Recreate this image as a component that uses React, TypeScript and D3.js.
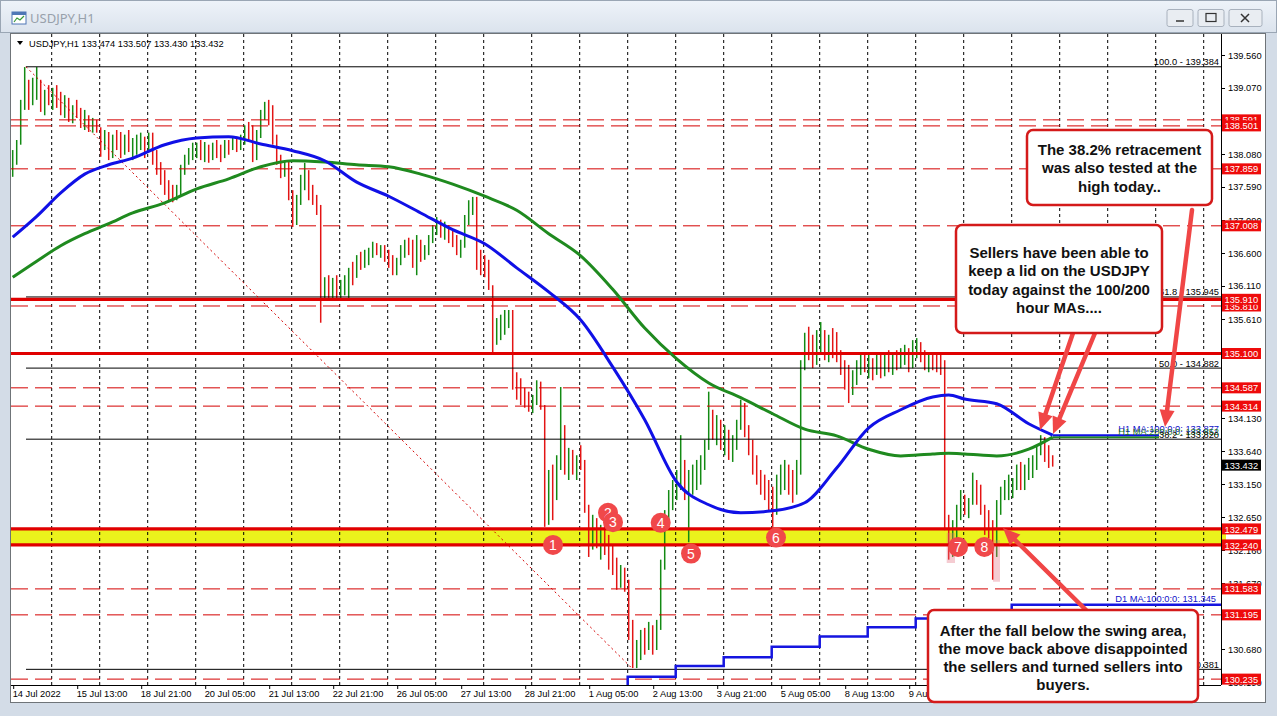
import React from "react";
import * as d3 from "d3";

// ---------- layout ----------
const W = 1277, H = 716;
const PL = 11, PR = 1221, PT = 34, PB = 685;
const FONT = "'Liberation Sans', Arial, sans-serif";

// ---------- data ----------
// 2-hour candles, first slot index (slot j covers H1 bars 2j, 2j+1 from 14 Jul 00:00)
const firstSlot = 2;
const firstOpen = 137.84;
const closes = [
  137.99, 138.29, 138.81, 139.11, 138.96, 139.04, 139.19, 138.89, 138.96, 138.89,
  138.96, 138.89, 138.74, 138.89, 138.62, 138.77, 138.66, 138.56, 138.59, 138.47,
  138.51, 138.44, 138.14, 138.37, 138.07, 138.29, 138.22, 138.14, 138.29, 138.17,
  138.22, 138.29, 138.32, 138.14, 138.32, 137.99, 137.84, 137.69, 137.54, 137.47,
  137.42, 137.54, 137.84, 137.99, 138.11, 138.14, 138.17, 138.07, 138.14, 138.02,
  138.17, 138.14, 138.07, 138.22, 138.14, 138.26, 138.22, 138.29, 138.44, 138.37,
  138.07, 138.37, 138.66, 138.77, 138.59, 138.29, 137.99, 137.84, 137.92, 137.47,
  137.17, 137.39, 137.69, 137.77, 137.47, 137.39, 137.24, 136.05, 136.12, 136.05,
  136.17, 135.97, 136.12, 136.20, 136.32, 136.27, 136.50, 136.42, 136.57, 136.62,
  136.72, 136.65, 136.68, 136.53, 136.47, 136.35, 136.47, 136.65, 136.72, 136.62,
  136.47, 136.80, 136.53, 136.65, 136.83, 136.95, 137.07, 136.92, 136.98, 136.83,
  136.80, 136.65, 136.72, 137.10, 137.32, 137.39, 136.50, 136.47, 136.35, 136.12,
  135.30, 135.45, 135.60, 135.68, 135.72, 134.70, 134.63, 134.48, 134.41, 134.33,
  134.41, 134.63, 134.33, 132.91, 133.21, 133.06, 133.44, 133.96, 133.44, 133.51,
  133.39, 133.48, 133.44, 132.84, 132.46, 132.54, 132.31, 132.39, 132.24, 132.02,
  131.87, 131.72, 131.87, 131.64, 130.97, 130.52, 130.67, 130.82, 130.75, 130.97,
  130.75, 131.00, 131.94, 132.61, 132.91, 133.06, 133.14, 133.44, 133.06, 133.21,
  133.29, 133.36, 133.51, 133.73, 134.11, 133.96, 134.03, 133.81, 133.88, 133.66,
  133.81, 134.03, 134.26, 133.96, 133.66, 133.44, 133.21, 133.09, 133.03, 132.91,
  132.84, 133.21, 133.29, 133.36, 133.21, 132.99, 133.36, 134.93, 135.23, 135.15,
  135.08, 135.23, 135.30, 135.15, 135.23, 135.15, 135.08, 134.85, 134.70, 134.63,
  134.78, 134.93, 135.00, 134.88, 134.97, 134.85, 135.03, 134.82, 135.00, 134.93,
  135.08, 134.97, 135.12, 135.15, 134.93, 135.18, 135.23, 135.08, 134.93, 135.00,
  134.97, 134.88, 134.85, 132.61, 132.31, 132.39, 132.69, 132.84, 132.76, 132.88,
  133.14, 132.99, 132.76, 132.54, 132.46, 132.31, 132.84, 132.99, 133.09, 133.14,
  133.18, 133.36, 133.14, 133.36, 133.47, 133.51, 133.66, 133.81, 133.58, 133.51,
  133.43,
];
const highs = [
  138.14, 138.29, 138.89, 139.38, 139.19, 139.22, 139.38, 139.19, 139.04, 139.11,
  139.07, 139.11, 139.01, 138.96, 138.92, 138.81, 138.89, 138.77, 138.74, 138.66,
  138.62, 138.59, 138.48, 138.44, 138.41, 138.37, 138.44, 138.41, 138.37, 138.44,
  138.32, 138.37, 138.40, 138.34, 138.40, 138.40, 138.14, 137.96, 137.84, 137.69,
  137.62, 137.62, 137.92, 138.07, 138.17, 138.25, 138.25, 138.29, 138.26, 138.22,
  138.25, 138.29, 138.22, 138.29, 138.29, 138.32, 138.32, 138.37, 138.51, 138.56,
  138.51, 138.44, 138.74, 138.86, 138.89, 138.81, 138.37, 138.07, 137.99, 137.99,
  137.54, 137.47, 137.77, 137.95, 137.84, 137.62, 137.47, 137.32, 136.24, 136.27,
  136.23, 136.27, 136.20, 136.27, 136.38, 136.47, 136.57, 136.62, 136.65, 136.68,
  136.77, 136.75, 136.72, 136.72, 136.65, 136.57, 136.53, 136.72, 136.80, 136.83,
  136.80, 136.87, 136.72, 136.72, 136.87, 137.02, 137.14, 137.10, 137.07, 137.02,
  136.95, 136.87, 136.80, 137.17, 137.39, 137.44, 137.44, 136.65, 136.57, 136.50,
  136.12, 135.63, 135.68, 135.75, 135.75, 135.75, 134.82, 134.73, 134.59, 134.53,
  134.48, 134.70, 134.68, 134.33, 133.36, 133.44, 133.58, 134.60, 134.03, 133.69,
  133.66, 133.58, 133.73, 133.51, 132.84, 132.69, 132.64, 132.54, 132.61, 132.39,
  132.24, 132.05, 131.94, 131.90, 131.72, 131.12, 130.82, 130.97, 131.00, 131.09,
  131.04, 131.12, 132.02, 132.76, 133.06, 133.21, 133.36, 133.88, 133.51, 133.36,
  133.44, 133.51, 133.58, 133.81, 134.53, 134.26, 134.18, 134.11, 134.03, 133.96,
  133.88, 134.11, 134.41, 134.36, 134.03, 133.81, 133.58, 133.36, 133.29, 133.21,
  133.11, 133.29, 133.44, 133.51, 133.44, 133.36, 133.51, 135.00, 135.41, 135.50,
  135.38, 135.45, 135.57, 135.45, 135.38, 135.48, 135.42, 135.15, 135.00, 134.93,
  134.85, 135.00, 135.08, 135.12, 135.08, 135.03, 135.12, 135.08, 135.08, 135.15,
  135.12, 135.15, 135.18, 135.23, 135.18, 135.30, 135.33, 135.27, 135.15, 135.08,
  135.12, 135.08, 135.08, 135.00, 132.69, 132.61, 132.84, 133.06, 132.99, 132.94,
  133.32, 133.21, 133.14, 132.84, 132.76, 132.61, 132.91, 133.11, 133.21, 133.29,
  133.24, 133.44, 133.48, 133.44, 133.54, 133.58, 133.73, 133.88, 133.85, 133.73,
  133.58,
];
const lows = [
  137.74, 137.92, 138.22, 138.74, 138.74, 138.81, 138.89, 138.71, 138.66, 138.81,
  138.74, 138.77, 138.66, 138.62, 138.56, 138.54, 138.62, 138.47, 138.44, 138.41,
  138.40, 138.40, 138.04, 138.14, 137.99, 138.02, 138.14, 138.02, 138.07, 138.11,
  137.99, 138.07, 138.14, 138.02, 138.11, 137.92, 137.77, 137.62, 137.47, 137.39,
  137.36, 137.39, 137.44, 137.77, 137.92, 137.99, 138.02, 137.99, 137.96, 137.95,
  137.99, 138.02, 137.96, 138.02, 138.07, 138.14, 138.11, 138.14, 138.22, 138.29,
  137.96, 137.99, 138.32, 138.59, 138.51, 138.22, 137.92, 137.72, 137.74, 137.39,
  136.99, 137.02, 137.32, 137.54, 137.39, 137.32, 137.17, 135.56, 135.90, 135.93,
  135.90, 135.90, 135.90, 135.97, 135.90, 136.12, 136.23, 136.35, 136.38, 136.42,
  136.53, 136.57, 136.53, 136.47, 136.38, 136.27, 136.27, 136.42, 136.53, 136.57,
  136.38, 136.27, 136.47, 136.50, 136.57, 136.75, 136.87, 136.83, 136.80, 136.75,
  136.69, 136.57, 136.53, 136.68, 137.02, 137.17, 136.35, 136.27, 136.24, 136.05,
  135.12, 135.23, 135.30, 135.38, 135.48, 134.56, 134.41, 134.33, 134.29, 134.23,
  134.21, 134.33, 134.26, 132.51, 132.54, 132.61, 132.91, 133.36, 133.29, 133.21,
  133.29, 133.21, 133.36, 132.72, 132.06, 132.17, 132.19, 132.02, 132.09, 131.87,
  131.79, 131.57, 131.60, 131.54, 130.82, 130.40, 130.40, 130.52, 130.60, 130.67,
  130.60, 130.67, 130.97, 131.87, 132.54, 132.76, 132.91, 133.06, 132.91, 132.28,
  132.99, 133.06, 133.14, 133.36, 133.66, 133.81, 133.73, 133.66, 133.58, 133.51,
  133.48, 133.66, 133.96, 133.85, 133.58, 133.29, 133.14, 132.99, 132.91, 132.76,
  132.51, 132.69, 132.99, 133.06, 132.99, 132.87, 132.99, 133.29, 134.85, 135.00,
  134.88, 134.93, 135.08, 135.00, 134.97, 135.03, 134.97, 134.78, 134.56, 134.36,
  134.48, 134.63, 134.78, 134.82, 134.73, 134.70, 134.78, 134.73, 134.76, 134.82,
  134.78, 134.85, 134.88, 134.93, 134.82, 134.88, 135.03, 134.97, 134.85, 134.82,
  134.85, 134.82, 134.78, 132.46, 132.02, 132.06, 132.24, 132.61, 132.69, 132.64,
  132.84, 132.84, 132.69, 132.39, 132.34, 131.72, 132.06, 132.69, 132.91, 132.91,
  132.94, 133.06, 133.06, 133.06, 133.21, 133.24, 133.36, 133.58, 133.48, 133.39,
  133.41,
];

// moving averages sampled at 2-hour slots
const maSlots = [2, 8, 14, 20, 26, 32, 40, 48, 56, 64, 72, 80, 88, 96, 104, 112, 120, 128,
  136, 144, 152, 160, 168, 176, 184, 192, 200, 208, 216, 224, 232, 236, 240, 248, 256, 262];
const ma100 = [136.84, 137.15, 137.50, 137.78, 137.92, 138.02, 138.22, 138.32, 138.34, 138.23,
  138.13, 137.98, 137.66, 137.45, 137.20, 136.95, 136.74, 136.38, 136.02, 135.60, 134.90,
  134.11, 133.18, 132.84, 132.72, 132.75, 132.87, 133.39, 133.99, 134.26, 134.45, 134.48,
  134.42, 134.35, 134.05, 133.88];
const ma200 = [136.24, 136.48, 136.71, 136.89, 137.04, 137.20, 137.35, 137.56, 137.71, 137.89,
  137.98, 137.96, 137.92, 137.89, 137.78, 137.63, 137.45, 137.24, 136.89, 136.56, 136.06,
  135.48, 135.02, 134.66, 134.44, 134.20, 133.97, 133.87, 133.67, 133.57, 133.60, 133.61,
  133.60, 133.57, 133.67, 133.85];

// daily MA(100) — one value per trading day (day index 0 = 15 Jul)
const d1Days = [11, 12, 13, 14, 15, 16, 17, 18, 19, 20];
const d1Values = [130.05, 130.27, 130.43, 130.56, 130.72, 130.87, 131.01, 131.14, 131.25, 131.345];

// horizontal levels
const solidLevels = [135.910, 135.100, 132.479, 132.240];
const dashedLevels = [138.591, 138.501, 137.859, 137.008, 135.810, 134.587, 134.314, 131.583, 131.195, 130.235];
const levelLabels = [138.591, 138.501, 137.859, 137.008, 135.810, 135.910, 135.100, 134.587, 134.314,
  132.479, 132.240, 131.583, 131.195, 130.235];
const swingZone = [132.240, 132.479];

// fibonacci
const fibAnchorBars = [11.15, 314.65];
const fibRatios = ["100.0", "61.8", "50.0", "38.2", "0.0"];
const fibPrices = [139.384, 135.945, 134.882, 133.820, 130.381];

// axes (tick labels that the price tags cover completely are left out)
const yTicks = [139.56, 139.07, 138.08, 137.59, 137.09, 136.6, 136.11, 135.61,
  134.13, 133.64, 133.15, 132.65, 132.16, 131.67, 130.68, 130.19];
const timeLabels = ["14 Jul 2022", "15 Jul 13:00", "18 Jul 21:00", "20 Jul 05:00", "21 Jul 13:00",
  "22 Jul 21:00", "26 Jul 05:00", "27 Jul 13:00", "28 Jul 21:00", "1 Aug 05:00", "2 Aug 13:00",
  "3 Aug 21:00", "5 Aug 05:00", "8 Aug 13:00", "9 Aug 21:00"];
const timeLabelBars = timeLabels.map((_, i) => 5 + 32 * i);
const lastPrice = 133.432;
const headerOHLC = "133.474 133.507 133.430 133.432";

// numbered markers (H1 bar, price)
const markerNums = [1, 2, 3, 4, 5, 6, 7, 8];
const markerBars = [274.65, 302.15, 304.65, 328.5, 343.65, 386.15, 477.15, 490.3];
const markerPrices = [132.24, 132.72, 132.58, 132.57, 132.11, 132.35, 132.21, 132.21];
// highlighted candles (bar range, price range)
const highlights = [
  { b0: 471.5, b1: 475.65, p0: 132.42, p1: 131.97 },
  { b0: 494.65, b1: 498.15, p0: 132.31, p1: 131.69 },
];

const boxA = ["The 38.2% retracement", "was also tested at the", "high today.."];
const boxB = ["Sellers have been able to", "keep a lid on the USDJPY", "today against the 100/200", "hour MAs...."];
const boxC = ["After the fall below the swing area,", "the move back above disappointed", "the sellers and turned sellers into", "buyers."];

// ---------- scales ----------
const yScale = d3.scaleLinear().domain([130.147, 139.874]).range([PB, PT]);
const xScale = d3.scaleLinear().domain([0, 608.65]).range([3.7, PR]); // H1 bar index
const slotX = (j: number) => xScale(2 * j + 0.5);
const dayX = (k: number) => xScale(24 + 24 * k);

const UP = "#138a13";
const DOWN = "#e31414";
const RED = "#e00000";
const ARROW = "#f04646";

function Arrow({ x1, y1, x2, y2 }: { x1: number; y1: number; x2: number; y2: number }) {
  const dx = x2 - x1, dy = y2 - y1;
  const len = Math.hypot(dx, dy);
  const ux = dx / len, uy = dy / len;
  const hl = 17, hw = 7.5;
  const bx = x2 - ux * hl, by = y2 - uy * hl;
  const px = -uy, py = ux;
  const pts = `${x2},${y2} ${bx + px * hw},${by + py * hw} ${bx - px * hw},${by - py * hw}`;
  return (
    <g>
      <line x1={x1} y1={y1} x2={bx + ux * 2} y2={by + uy * 2} stroke={ARROW} strokeWidth={4.5} strokeLinecap="round" />
      <polygon points={pts} fill={ARROW} />
    </g>
  );
}

function TextBox({ x, y, w, h, lines, first }: { x: number; y: number; w: number; h: number; lines: string[]; first: number }) {
  return (
    <g>
      <rect x={x} y={y} width={w} height={h} rx={6} ry={6} fill="#ffffff" stroke="#d41a1a" strokeWidth={2.5} />
      {lines.map((t, i) => (
        <text key={i} x={x + w / 2} y={first + i * 18.3} textAnchor="middle" fontFamily={FONT}
          fontWeight="bold" fontSize={15} fill="#111">{t}</text>
      ))}
    </g>
  );
}

export default function App() {
  const candles = closes.map((c, i) => {
    const o = i === 0 ? firstOpen : closes[i - 1];
    return {
      x: slotX(firstSlot + i),
      hi: Math.max(highs[i], o, c),
      lo: Math.min(lows[i], o, c),
      up: c >= o,
    };
  });

  const maLine = d3.line<[number, number]>()
    .x((d) => slotX(d[0]))
    .y((d) => yScale(d[1]))
    .curve(d3.curveMonotoneX);
  const ma100Path = maLine(maSlots.map((s, i) => [s, ma100[i]]) as [number, number][]) || "";
  const ma200Path = maLine(maSlots.map((s, i) => [s, ma200[i]]) as [number, number][]) || "";
  const lastX = slotX(maSlots[maSlots.length - 1]);

  const d1Pts: [number, number][] = d1Days.map((k, i) => [dayX(k), yScale(d1Values[i])]);
  d1Pts.push([PR, yScale(d1Values[d1Values.length - 1])]);
  const d1Path = d3.line().curve(d3.curveStepAfter)(d1Pts) || "";

  const gridXs: number[] = [];
  for (let k = 0; dayX(k) < PR; k++) gridXs.push(dayX(k));

  const fibX0 = xScale(fibAnchorBars[0]);
  const fibX1 = xScale(fibAnchorBars[1]);

  return (
    <svg width={W} height={H} style={{ position: "absolute", left: 0, top: 0 }} xmlns="http://www.w3.org/2000/svg">
      <defs>
        <linearGradient id="tb" x1="0" y1="0" x2="0" y2="1">
          <stop offset="0" stopColor="#eef3f9" />
          <stop offset="1" stopColor="#dbe3ed" />
        </linearGradient>
        <clipPath id="plot">
          <rect x={PL} y={PT} width={PR - PL} height={PB - PT} />
        </clipPath>
      </defs>

      {/* window chrome */}
      <rect x={0} y={0} width={W} height={H} fill="#d3dce7" />
      <rect x={0.5} y={0.5} width={W - 1} height={32} fill="url(#tb)" stroke="#9aa6b4" />
      <g>
        <rect x={12} y={12} width={14} height={12} fill="#ffffff" stroke="#4f77b6" />
        <rect x={12} y={12} width={14} height={3} fill="#4f77b6" />
        <path d="M14 22 L17 18 L20 20 L24 16" stroke="#3a9a3a" fill="none" strokeWidth={1.2} />
      </g>
      <text x={30} y={23} fontFamily="'Noto Sans', 'Open Sans', sans-serif" fontSize={13} fill="#98a1ab">USDJPY,H1</text>
      {[1167, 1198].map((bx, i) => (
        <g key={i}>
          <rect x={bx} y={9.5} width={26} height={17} rx={2} fill="#e9edf2" stroke="#a8b1bd" />
          {i === 0 ? (
            <line x1={bx + 9} y1={21} x2={bx + 17} y2={21} stroke="#333" strokeWidth={1.5} />
          ) : (
            <rect x={bx + 8} y={13.5} width={10} height={8} fill="none" stroke="#333" strokeWidth={1.2} />
          )}
        </g>
      ))}
      <rect x={1229} y={9.5} width={33} height={17} rx={2} fill="#e9edf2" stroke="#a8b1bd" />
      <path d="M1241 14 L1249 22 M1249 14 L1241 22" stroke="#333" strokeWidth={1.5} />

      {/* chart panel */}
      <rect x={10.5} y={33.5} width={1255} height={669} fill="#ffffff" stroke="#6f7478" />

      {/* swing zone */}
      <rect x={PL} y={yScale(swingZone[1])} width={1226 - PL} height={yScale(swingZone[0]) - yScale(swingZone[1])} fill="#ebf21c" />

      {/* vertical grid */}
      {gridXs.map((gx, i) => (
        <line key={i} x1={gx} x2={gx} y1={PT} y2={PB} stroke="#000" strokeWidth={1} strokeDasharray="3,3" />
      ))}

      <g clipPath="url(#plot)">
        {/* candles */}
        {candles.map((c, i) => (
          <line key={i} x1={c.x} x2={c.x} y1={yScale(c.hi)} y2={yScale(c.lo)} stroke={c.up ? UP : DOWN} strokeWidth={1.5} />
        ))}
        {/* highlighted candles */}
        {highlights.map((r, i) => (
          <rect key={i} x={xScale(r.b0)} y={yScale(r.p0)} width={xScale(r.b1) - xScale(r.b0)}
            height={yScale(r.p1) - yScale(r.p0)} fill="rgba(225,110,125,0.35)" />
        ))}

        {/* dashed levels */}
        {dashedLevels.map((v, i) => (
          <line key={i} x1={PL} x2={PR} y1={yScale(v)} y2={yScale(v)} stroke="#d40000" strokeWidth={1} strokeDasharray="17,7" />
        ))}
        {/* fibonacci */}
        {fibPrices.map((v, i) => (
          <line key={i} x1={fibX0} x2={PR} y1={yScale(v)} y2={yScale(v)} stroke="#000" strokeWidth={1} />
        ))}
        <line x1={fibX0} y1={yScale(fibPrices[0])} x2={fibX1} y2={yScale(fibPrices[4])} stroke="#d40000" strokeWidth={1} strokeDasharray="2,3" />

        {/* solid levels */}
        {solidLevels.map((v, i) => (
          <line key={i} x1={PL} x2={PR} y1={yScale(v)} y2={yScale(v)} stroke={RED} strokeWidth={3.2} />
        ))}

        {/* daily MA step line */}
        <path d={d1Path} fill="none" stroke="#1515e0" strokeWidth={2.5} />
        {/* hourly MAs */}
        <path d={ma200Path} fill="none" stroke="#1f8a1f" strokeWidth={3} />
        <line x1={lastX} x2={1159} y1={yScale(ma200[ma200.length - 1])} y2={yScale(ma200[ma200.length - 1])} stroke="#1f8a1f" strokeWidth={2} />
        <path d={ma100Path} fill="none" stroke="#1010e6" strokeWidth={3} />
        <line x1={lastX} x2={1159} y1={yScale(ma100[ma100.length - 1])} y2={yScale(ma100[ma100.length - 1])} stroke="#1010e6" strokeWidth={2} />
      </g>

      {/* plot frame lines */}
      <line x1={PR + 0.5} x2={PR + 0.5} y1={PT} y2={PB} stroke="#000" />
      <line x1={PL} x2={PR} y1={PB + 0.5} y2={PB + 0.5} stroke="#000" />

      {/* header */}
      <path d="M17 41 L23 41 L20 45 Z" fill="#000" />
      <text x={29} y={46.5} fontFamily={FONT} fontSize={9.3} fill="#000">{"USDJPY,H1  " + headerOHLC}</text>

      {/* fib labels */}
      {fibPrices.map((v, i) => (i === 3 ? null :
        <text key={i} x={1219} y={yScale(v) - 1.5} textAnchor="end" fontFamily={FONT} fontSize={9.3} fill="#000">
          {`${fibRatios[i]} - ${v.toFixed(3)}`}
        </text>
      ))}
      {/* MA labels */}
      <text x={1219} y={yScale(ma100[ma100.length - 1]) - 3} textAnchor="end" fontFamily={FONT} fontSize={9.3} fill="#1010c8">H1 MA:100:0:0: 133.877</text>
      <text x={1219} y={yScale(ma200[ma200.length - 1]) - 2} textAnchor="end" fontFamily={FONT} fontSize={9.3} fill="#1f7a1f">H1 MA:200:0:0: 133.852</text>
      <text x={1219} y={yScale(fibPrices[3]) - 1.5} textAnchor="end" fontFamily={FONT} fontSize={9.3} fill="#000">{`${fibRatios[3]} - ${fibPrices[3].toFixed(3)}`}</text>
      <text x={1216} y={yScale(d1Values[d1Values.length - 1]) - 2.5} textAnchor="end" fontFamily={FONT} fontSize={9.3} fill="#1010c8">
        {`D1 MA:100:0:0: ${d1Values[d1Values.length - 1].toFixed(3)}`}
      </text>

      {/* y axis ticks */}
      {yTicks.map((v, i) => (
        <g key={i}>
          <line x1={PR} x2={PR + 4} y1={Math.round(yScale(v)) + 0.5} y2={Math.round(yScale(v)) + 0.5} stroke="#000" />
          <text x={1228} y={yScale(v) + 3.5} fontFamily={FONT} fontSize={9.3} fill="#000">{v.toFixed(3)}</text>
        </g>
      ))}
      {/* level labels */}
      {levelLabels.map((v, i) => (
        <g key={i}>
          <rect x={1222} y={yScale(v) - 5.5} width={39} height={11} fill="#ee0b0b" />
          <text x={1224.5} y={yScale(v) + 3.6} fontFamily={FONT} fontSize={9.3} fill="#fff">{v.toFixed(3)}</text>
        </g>
      ))}
      <rect x={1222} y={yScale(lastPrice) - 5.5} width={39} height={11} fill="#000" />
      <text x={1224.5} y={yScale(lastPrice) + 3.6} fontFamily={FONT} fontSize={9.3} fill="#fff">{lastPrice.toFixed(3)}</text>

      {/* time axis */}
      {timeLabels.map((t, i) => {
        const tx = xScale(timeLabelBars[i]);
        return (
          <g key={i}>
            <line x1={tx} x2={tx} y1={PB} y2={PB + 4} stroke="#000" />
            <text x={tx - 1} y={697} fontFamily={FONT} fontSize={9.3} fill="#000">{t}</text>
          </g>
        );
      })}

      {/* numbered markers */}
      {markerNums.map((n, i) => {
        const cx = xScale(markerBars[i]);
        const cy = yScale(markerPrices[i]);
        return (
          <g key={i}>
            <circle cx={cx} cy={cy} r={10} fill="#f0484a" />
            <text x={cx} y={cy + 5} textAnchor="middle" fontFamily={FONT} fontSize={14} fill="#fff">{n}</text>
          </g>
        );
      })}

      {/* arrows */}
      <Arrow x1={1192} y1={210} x2={1165} y2={427} />
      <Arrow x1={1073} y1={333} x2={1040} y2={430} />
      <Arrow x1={1095} y1={333} x2={1053} y2={434} />
      <Arrow x1={1087} y1={611} x2={1003} y2={528} />

      {/* annotation boxes */}
      <TextBox x={1027} y={130} w={185} h={75} lines={boxA} first={155} />
      <TextBox x={956} y={225} w={206} h={108} lines={boxB} first={258} />
      <TextBox x={928} y={610} w={270} h={92} lines={boxC} first={635.5} />
    </svg>
  );
}
